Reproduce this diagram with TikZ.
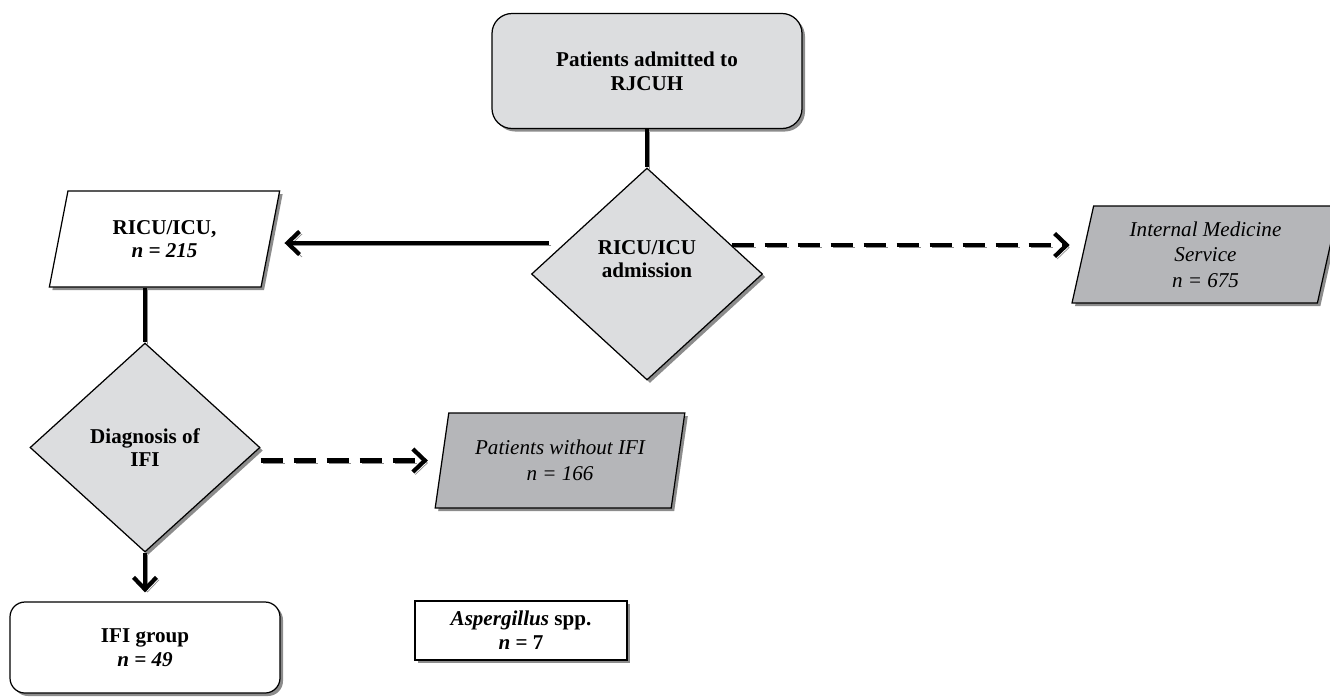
\documentclass[tikz,border=0pt]{standalone}
\usepackage{fontspec}
\setmainfont{Liberation Serif}
\usetikzlibrary{shapes.geometric,shadows,arrows.meta,positioning}
\definecolor{boxgray}{HTML}{DCDDDF}
\definecolor{iogray}{HTML}{B5B6B9}
\tikzset{>={Straight Barb[length=2.4mm,width=4.6mm]}, % open barbed heads
every node/.style={draw, line width=0.7pt, align=center, inner sep=1pt,
  drop shadow={shadow xshift=0.6mm, shadow yshift=-0.6mm, fill=black, opacity=0.45}}, % boxes all get a shadow
strong/.style={font=\fontsize{12}{13.5}\selectfont\bfseries}, % bold labels
soft/.style={font=\fontsize{12}{14.5}\selectfont\itshape}, % italic labels of the side groups
decision/.style={diamond, fill=boxgray, strong, minimum width=46.2mm, minimum height=42.4mm},
datain/.style={trapezium, trapezium left angle=76, trapezium right angle=104, trapezium stretches=true},
link/.style={line width=2.4pt, preaction={draw=black!45, transform canvas={shift={(0.5mm,-0.5mm)}}}},
flow/.style={link, ->},
dashflow/.style={->, line width=2.4pt, dash pattern=on 4.4mm off 2.2mm,
  preaction={draw=black!45, dash pattern=on 4.4mm off 2.2mm, transform canvas={shift={(0.5mm,-0.5mm)}}}}, % shadow follows the dashes
}
\begin{document}
\begin{tikzpicture}[x=0.2mm, y=-0.2mm]
\useasboundingbox (0,0) rectangle (1330,696);
\node[strong, rounded corners=4mm, fill=boxgray, minimum width=62mm, minimum height=23mm] (adm) at (647,71) {Patients admitted to\\RJCUH};
\node[decision, text depth=6mm] (dia1) at (647,274) {RICU/ICU\\admission};
\node[datain, strong, fill=white, minimum width=46.2mm, minimum height=19.2mm] (ricu) at (164.5,239) {RICU/ICU,\\\textit{n = 215}};
\node[datain, soft, fill=iogray, trapezium left angle=77.8, trapezium right angle=102.2, minimum width=53.4mm, minimum height=19.4mm] (ims) at (1205.5,254.5) {Internal Medicine\\Service\\n = 675};
\node[decision, minimum width=46mm, minimum height=41.8mm] (dia2) at (145,447.5) {Diagnosis of\\IFI};
\node[datain, soft, fill=iogray, trapezium left angle=76.4, trapezium right angle=103.6, minimum width=50mm, minimum height=19mm] (noifi) at (560,460.5) {Patients without IFI\\n = 166};
\node[strong, rounded corners=3mm, fill=white, minimum width=54mm, minimum height=18.2mm] (ifi) at (145,647.5) {IFI group\\\textit{n = 49}};
\node[strong, fill=white, minimum width=42.4mm, minimum height=11.8mm] (asp) at (521,630.5) {\textit{Aspergillus} spp.\\\textit{n} = 7};
% connectors
\coordinate (ricuTail) at ([xshift=3.6mm,yshift=6.2mm]dia1.west);
\coordinate (imsTail) at ([xshift=-6.3mm,yshift=5.8mm]dia1.east);
\draw[link] (adm.south) -- (dia1.north);
\draw[flow, shorten >=2.7mm] (ricuTail) -- (ricuTail -| ricu.east);
\draw[dashflow, shorten >=2.5mm] (imsTail) -- (imsTail -| ims.west);
\draw[link] (dia2.north |- ricu.south) -- (dia2.north);
\draw[dashflow, shorten >=2.7mm] (dia2.east |- noifi.west) -- (noifi.west);
\draw[flow, shorten >=1.8mm] (dia2.south) -- (ifi.north);
\end{tikzpicture}
\end{document}
